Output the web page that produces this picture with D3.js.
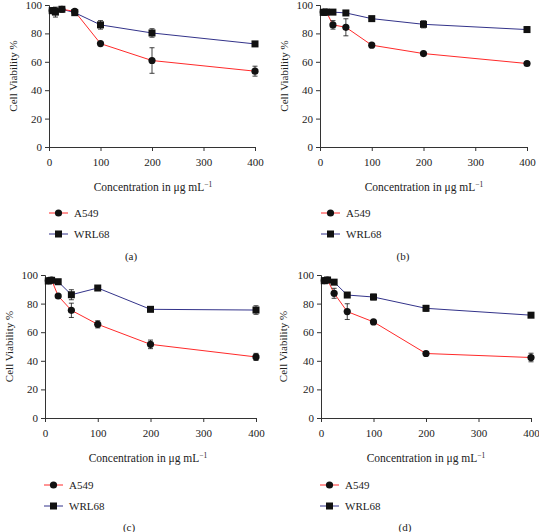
<!DOCTYPE html>
<html><head><meta charset="utf-8">
<script src="https://cdnjs.cloudflare.com/ajax/libs/d3/7.8.5/d3.min.js"></script>
<style>body{margin:0;background:#fff}svg{display:block}text{font-family:"Liberation Serif","DejaVu Serif",serif;fill:#222}</style>
</head><body><svg id="c" width="539" height="532"></svg>
<script>
const conc = [6.25, 12.5, 25, 50, 100, 200, 400];
const xTicks = [0, 100, 200, 300, 400];
const yTicks = [0, 20, 40, 60, 80, 100];
const seriesNames = ["A549", "WRL68"];
const panelLabels = ["(a)", "(b)", "(c)", "(d)"];

const a549A = [96, 96, 97, 95.5, 72.8, 60.9, 53.4];
const a549AErr = [1, 1, 1, 1, 1, 9, 3.5];
const wrlA = [96, 95, 97, 94.6, 86, 80.3, 72.6];
const wrlAErr = [1.5, 3.5, 1, 1, 3, 3, 1.5];

const a549B = [95, 95, 86, 84.3, 71.7, 65.8, 58.8];
const a549BErr = [0.5, 0.5, 3, 6, 1, 1, 1];
const wrlB = [94.8, 95, 95, 94.4, 90.4, 86.4, 82.7];
const wrlBErr = [0.5, 0.5, 0.5, 1, 1, 2.5, 2];

const a549C = [96, 96.5, 85.3, 75.3, 65.5, 51.5, 42.7];
const a549CErr = [0.5, 0.5, 1, 5, 2.5, 3, 2.5];
const wrlC = [95.8, 96.3, 95.3, 86.2, 90.9, 76, 75.5];
const wrlCErr = [0.5, 0.5, 1, 3.5, 1, 1, 3];

const a549D = [96, 96.5, 87.2, 74.4, 67.2, 45.1, 42.3];
const a549DErr = [0.5, 0.5, 3.5, 5.5, 1, 1, 3];
const wrlD = [96, 96.5, 95, 86, 84.6, 76.7, 71.9];
const wrlDErr = [0.5, 0.5, 1, 1, 2, 2, 1];

const panels = [
  {a: a549A, ae: a549AErr, w: wrlA, we: wrlAErr, L: 49, R: 255, T: 5, B: 147, ylab: 13, title: 187, titleX: 153, leg1: 213, leg2: 234, legX: 49, cap: 256, capX: 131},
  {a: a549B, ae: a549BErr, w: wrlB, we: wrlBErr, L: 320, R: 527, T: 5, B: 147, ylab: 284, title: 187, titleX: 424, leg1: 213, leg2: 234, legX: 321, cap: 256, capX: 403},
  {a: a549C, ae: a549CErr, w: wrlC, we: wrlCErr, L: 45, R: 256, T: 275, B: 418, ylab: 9, title: 458, titleX: 148, leg1: 485, leg2: 506, legX: 44, cap: 527, capX: 129},
  {a: a549D, ae: a549DErr, w: wrlD, we: wrlDErr, L: 321, R: 531, T: 275, B: 418, ylab: 283, title: 458, titleX: 426, leg1: 485, leg2: 506, legX: 320, cap: 527, capX: 405}
];

const svg = d3.select("#c");
const red = "#ff2a2a", navy = "#33338a";
const FS = 11;

panels.forEach((p, i) => {
  const g = svg.append("g");
  const x = d3.scaleLinear().domain([0, 400]).range([p.L, p.R]);
  const y = d3.scaleLinear().domain([0, 100]).range([p.B, p.T]);

  const xa = g.append("g").attr("transform", `translate(0,${p.B})`)
    .call(d3.axisBottom(x).tickValues(xTicks).tickSize(4).tickPadding(7));
  const ya = g.append("g").attr("transform", `translate(${p.L},0)`)
    .call(d3.axisLeft(y).tickValues(yTicks).tickSize(4).tickPadding(3));
  [xa, ya].forEach(ax => {
    ax.select(".domain").attr("stroke", "#333");
    ax.selectAll(".tick line").attr("stroke", "#333");
    ax.selectAll("text").attr("font-size", FS).attr("font-family", "Liberation Serif").attr("fill", "#222");
  });

  g.append("text").attr("transform", `translate(${p.ylab},${(p.T + p.B) / 2}) rotate(-90)`)
    .attr("text-anchor", "middle").attr("dy", "0.35em").attr("font-size", FS).text("Cell Viability %");

  const t = g.append("text").attr("x", p.titleX).attr("y", p.title).attr("text-anchor", "middle")
    .attr("font-size", 11.5).attr("dy", "0.35em");
  t.append("tspan").text("Concentration in μg mL");
  t.append("tspan").attr("font-size", 7.5).attr("dy", "-0.6em").text("−1");

  const series = [
    {v: p.w, e: p.we, c: navy, sq: true},
    {v: p.a, e: p.ae, c: red, sq: false}
  ];
  const line = d3.line().x((d, j) => x(conc[j])).y(d => y(d));
  series.forEach(s => {
    g.append("path").datum(s.v).attr("d", line).attr("fill", "none").attr("stroke", s.c).attr("stroke-width", 1);
  });
  series.forEach(s => {
    const eg = g.append("g");
    s.v.forEach((v, j) => {
      const cx = x(conc[j]);
      const y1 = y(v + s.e[j]), y2 = y(v - s.e[j]);
      eg.append("line").attr("x1", cx).attr("x2", cx).attr("y1", y1).attr("y2", y2).attr("stroke", "#111").attr("stroke-width", 0.8);
      [y1, y2].forEach(yy => eg.append("line").attr("x1", cx - 2.5).attr("x2", cx + 2.5).attr("y1", yy).attr("y2", yy).attr("stroke", "#111").attr("stroke-width", 0.8));
      if (s.sq) eg.append("rect").attr("x", cx - 3.5).attr("y", y(v) - 3.5).attr("width", 7).attr("height", 7).attr("fill", "#111");
      else eg.append("circle").attr("cx", cx).attr("cy", y(v)).attr("r", 3.6).attr("fill", "#111");
    });
  });

  // legend
  [[p.leg1, red, false, seriesNames[0]], [p.leg2, navy, true, seriesNames[1]]].forEach(([ly, c, sq, name]) => {
    g.append("line").attr("x1", p.legX).attr("x2", p.legX + 19).attr("y1", ly).attr("y2", ly).attr("stroke", c).attr("stroke-width", 1);
    const mx = p.legX + 9.5;
    if (sq) g.append("rect").attr("x", mx - 3.5).attr("y", ly - 3.5).attr("width", 7).attr("height", 7).attr("fill", "#111");
    else g.append("circle").attr("cx", mx).attr("cy", ly).attr("r", 3.6).attr("fill", "#111");
    g.append("text").attr("x", p.legX + 25).attr("y", ly).attr("dy", "0.35em").attr("font-size", FS).text(name);
  });

  g.append("text").attr("x", p.capX).attr("y", p.cap).attr("text-anchor", "middle").attr("dy", "0.35em")
    .attr("font-size", FS).text(panelLabels[i]);
});
</script></body></html>
